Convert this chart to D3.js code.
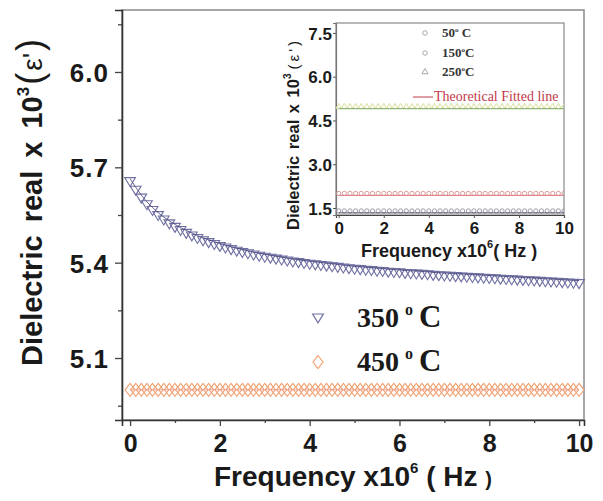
<!DOCTYPE html>
<html>
<head>
<meta charset="utf-8">
<script src="https://cdn.jsdelivr.net/npm/d3@7/dist/d3.min.js"></script>
<style>
  html, body { margin: 0; padding: 0; background: #fff; }
  svg { display: block; }
  .sans { font-family: "Liberation Sans", Arial, sans-serif; font-weight: bold; }
  .serif { font-family: "Liberation Serif", "Times New Roman", serif; font-weight: bold; }
</style>
</head>
<body>
<svg id="chart" width="603" height="501"></svg>
<script>
// ---- main panel data: frequency (x10^6 Hz) vs dielectric real part (x10^3) ----
const freqMain = [
  0, 0.125, 0.25, 0.375, 0.5, 0.625, 0.75, 0.875, 1, 1.125, 1.25, 1.375, 1.5, 1.625, 1.75, 1.875,
  2, 2.125, 2.25, 2.375, 2.5, 2.625, 2.75, 2.875, 3, 3.125, 3.25, 3.375, 3.5, 3.625, 3.75, 3.875,
  4, 4.125, 4.25, 4.375, 4.5, 4.625, 4.75, 4.875, 5, 5.125, 5.25, 5.375, 5.5, 5.625, 5.75, 5.875,
  6, 6.125, 6.25, 6.375, 6.5, 6.625, 6.75, 6.875, 7, 7.125, 7.25, 7.375, 7.5, 7.625, 7.75, 7.875,
  8, 8.125, 8.25, 8.375, 8.5, 8.625, 8.75, 8.875, 9, 9.125, 9.25, 9.375, 9.5, 9.625, 9.75, 9.875, 10
];
const eps350 = [
  5.655, 5.628, 5.603, 5.582, 5.564, 5.548, 5.534, 5.522, 5.511, 5.501, 5.492, 5.484, 5.476, 5.469, 5.463, 5.457,
  5.451, 5.446, 5.441, 5.436, 5.432, 5.428, 5.424, 5.420, 5.417, 5.414, 5.411, 5.408, 5.405, 5.402, 5.400, 5.397,
  5.395, 5.393, 5.391, 5.389, 5.387, 5.385, 5.383, 5.381, 5.379, 5.378, 5.376, 5.375, 5.373, 5.372, 5.370, 5.369,
  5.368, 5.366, 5.365, 5.364, 5.363, 5.362, 5.360, 5.359, 5.358, 5.357, 5.356, 5.355, 5.354, 5.353, 5.352, 5.351,
  5.350, 5.349, 5.348, 5.347, 5.346, 5.345, 5.344, 5.343, 5.342, 5.341, 5.340, 5.339, 5.338, 5.337, 5.336, 5.335, 5.334
];
const eps450 = [
  5.00, 5.00, 5.00, 5.00, 5.00, 5.00, 5.00, 5.00, 5.00, 5.00, 5.00, 5.00, 5.00, 5.00, 5.00, 5.00,
  5.00, 5.00, 5.00, 5.00, 5.00, 5.00, 5.00, 5.00, 5.00, 5.00, 5.00, 5.00, 5.00, 5.00, 5.00, 5.00,
  5.00, 5.00, 5.00, 5.00, 5.00, 5.00, 5.00, 5.00, 5.00, 5.00, 5.00, 5.00, 5.00, 5.00, 5.00, 5.00,
  5.00, 5.00, 5.00, 5.00, 5.00, 5.00, 5.00, 5.00, 5.00, 5.00, 5.00, 5.00, 5.00, 5.00, 5.00, 5.00,
  5.00, 5.00, 5.00, 5.00, 5.00, 5.00, 5.00, 5.00, 5.00, 5.00, 5.00, 5.00, 5.00, 5.00, 5.00, 5.00, 5.00
];
const mainXTicks = [0, 2, 4, 6, 8, 10];
const mainXMinor = [1, 3, 5, 7, 9];
const mainYTicks = [5.1, 5.4, 5.7, 6.0];
const mainYMinor = [4.95, 5.25, 5.55, 5.85, 6.15];
const mainLegend = ["350", "450"];

// ---- inset data ----
const freqInset = [
  0, 0.25, 0.5, 0.75, 1, 1.25, 1.5, 1.75, 2, 2.25, 2.5, 2.75, 3, 3.25, 3.5, 3.75, 4, 4.25, 4.5, 4.75,
  5, 5.25, 5.5, 5.75, 6, 6.25, 6.5, 6.75, 7, 7.25, 7.5, 7.75, 8, 8.25, 8.5, 8.75, 9, 9.25, 9.5, 9.75, 10
];
const eps50 = [
  1.40, 1.40, 1.40, 1.40, 1.40, 1.40, 1.40, 1.40, 1.40, 1.40, 1.40, 1.40, 1.40, 1.40, 1.40, 1.40, 1.40, 1.40, 1.40, 1.40,
  1.40, 1.40, 1.40, 1.40, 1.40, 1.40, 1.40, 1.40, 1.40, 1.40, 1.40, 1.40, 1.40, 1.40, 1.40, 1.40, 1.40, 1.40, 1.40, 1.40, 1.40
];
const eps150 = [
  2.00, 2.00, 2.00, 2.00, 2.00, 2.00, 2.00, 2.00, 2.00, 2.00, 2.00, 2.00, 2.00, 2.00, 2.00, 2.00, 2.00, 2.00, 2.00, 2.00,
  2.00, 2.00, 2.00, 2.00, 2.00, 2.00, 2.00, 2.00, 2.00, 2.00, 2.00, 2.00, 2.00, 2.00, 2.00, 2.00, 2.00, 2.00, 2.00, 2.00, 2.00
];
const eps250 = [
  4.97, 4.97, 4.97, 4.97, 4.97, 4.97, 4.97, 4.97, 4.97, 4.97, 4.97, 4.97, 4.97, 4.97, 4.97, 4.97, 4.97, 4.97, 4.97, 4.97,
  4.97, 4.97, 4.97, 4.97, 4.97, 4.97, 4.97, 4.97, 4.97, 4.97, 4.97, 4.97, 4.97, 4.97, 4.97, 4.97, 4.97, 4.97, 4.97, 4.97, 4.97
];
const insetXTicks = [0, 2, 4, 6, 8, 10];
const insetYTicks = [1.5, 3.0, 4.5, 6.0, 7.5];
const insetLegend = ["50", "150", "250"];

const svg = d3.select("#chart");

// ================= main panel =================
const M = { left: 122, right: 584, top: 10, bottom: 420 };
const x = d3.scaleLinear().domain([-0.18, 10.11]).range([M.left, M.right]);
const y = d3.scaleLinear().domain([4.905, 6.195]).range([M.bottom, M.top]);

// frame: top/right in grey, left/bottom axes drawn by d3 axes
svg.append("rect")
  .attr("x", M.left).attr("y", M.top)
  .attr("width", M.right - M.left).attr("height", M.bottom - M.top)
  .attr("fill", "#fff").attr("stroke", "#8a8a8a").attr("stroke-width", 1.5);

const xAxis = svg.append("g").attr("transform", `translate(0,${M.bottom})`)
  .call(d3.axisBottom(x).tickValues(mainXTicks).tickSize(6).tickFormat(d3.format("d")));
svg.append("g").attr("transform", `translate(0,${M.bottom})`)
  .call(d3.axisBottom(x).tickValues(mainXMinor).tickSize(3).tickFormat(""))
  .call(g => g.select(".domain").remove());
const yAxis = svg.append("g").attr("transform", `translate(${M.left},0)`)
  .call(d3.axisLeft(y).tickValues(mainYTicks).tickSize(7).tickFormat(d3.format(".1f")));
svg.append("g").attr("transform", `translate(${M.left},0)`)
  .call(d3.axisLeft(y).tickValues(mainYMinor).tickSize(4).tickFormat(""))
  .call(g => g.select(".domain").remove());

svg.selectAll(".domain").attr("stroke", "#333").attr("stroke-width", 1.6);
svg.selectAll(".tick line").attr("stroke", "#444").attr("stroke-width", 1.3);

xAxis.selectAll(".tick text").attr("class", "sans").attr("font-size", 25)
  .attr("fill", "#1a1a1a").attr("dy", "0").attr("y", 32);
yAxis.selectAll(".tick text").attr("class", "sans").attr("font-size", 26)
  .attr("fill", "#1a1a1a").attr("x", -13).attr("dy", "0.36em")
  .attr("letter-spacing", 1);

// fitted curve through the 350 °C data
const pts350 = freqMain.map((f, i) => [f, eps350[i]]);
const pts450 = freqMain.map((f, i) => [f, eps450[i]]);
const line = d3.line().x(d => x(d[0])).y(d => y(d[1]));

const triDown = d3.symbol().type({
  draw(ctx, size) {
    const s = Math.sqrt(size);
    ctx.moveTo(-s * 0.6, -s * 0.45);
    ctx.lineTo(s * 0.6, -s * 0.45);
    ctx.lineTo(0, s * 0.55);
    ctx.closePath();
  }
}).size(80);
const diamond = d3.symbol().type({
  draw(ctx, size) {
    const s = Math.sqrt(size);
    ctx.moveTo(0, -s * 0.65);
    ctx.lineTo(s * 0.5, 0);
    ctx.lineTo(0, s * 0.65);
    ctx.lineTo(-s * 0.5, 0);
    ctx.closePath();
  }
}).size(100);

svg.append("g").selectAll("path").data(pts450).join("path")
  .attr("d", diamond)
  .attr("transform", d => `translate(${x(d[0])},${y(d[1])})`)
  .attr("fill", "none").attr("stroke", "#f0a272").attr("stroke-width", 1.1);
svg.append("path").datum(pts450).attr("d", line)
  .attr("fill", "none").attr("stroke", "#e88a80").attr("stroke-width", 1).attr("opacity", 0.7);

svg.append("g").selectAll("path").data(pts350).join("path")
  .attr("d", triDown)
  .attr("transform", d => `translate(${x(d[0])},${y(d[1])})`)
  .attr("fill", "none").attr("stroke", "#6f6fa2").attr("stroke-width", 1.1);
svg.append("path").datum(pts350).attr("d", line)
  .attr("transform", "translate(0,-3)")
  .attr("fill", "none").attr("stroke", "#45457a").attr("stroke-width", 1).attr("opacity", 0.8);

// legend of the main panel
const legY = [318, 362];
const legMark = [triDown, diamond];
const legColor = ["#6f6fa2", "#f0a272"];
mainLegend.forEach((t, i) => {
  svg.append("path").attr("d", legMark[i])
    .attr("transform", `translate(318,${legY[i]})`)
    .attr("fill", "none").attr("stroke", legColor[i]).attr("stroke-width", 1.2);
  const tx = svg.append("text").attr("class", "serif").attr("font-size", 28)
    .attr("fill", "#1a1a1a").attr("x", 357).attr("y", legY[i] + 9);
  tx.append("tspan").text(t);
  tx.append("tspan").attr("font-size", 16).attr("dx", 6).attr("dy", -12).text("o");
  tx.append("tspan").attr("dx", 6).attr("dy", 12).attr("font-size", 31).text("C");
});

// axis titles
const xt = svg.append("text").attr("class", "sans").attr("font-size", 28)
  .attr("fill", "#1a1a1a").attr("text-anchor", "middle")
  .attr("x", (M.left + M.right) / 2).attr("y", 486);
xt.append("tspan").text("Frequency x10");
xt.append("tspan").attr("font-size", 15).attr("dy", -13).text("6");
xt.append("tspan").attr("dy", 13).text(" ( Hz ");
xt.append("tspan").attr("font-size", 20).text(")");

const yt = svg.append("text").attr("class", "sans").attr("font-size", 29)
  .attr("fill", "#1a1a1a").attr("word-spacing", 5)
  .attr("transform", "translate(42,366) rotate(-90)");
yt.append("tspan").text("Dielectric real x 10");
yt.append("tspan").attr("font-size", 17).attr("dy", -13).text("3");
yt.append("tspan").attr("dy", 13).attr("dx", 2).attr("font-size", 36).attr("font-weight", "normal").text("(");
yt.append("tspan").attr("font-weight", "normal").attr("font-size", 28).attr("dx", 2).text("ε'");
yt.append("tspan").attr("font-size", 36).attr("font-weight", "normal").attr("dx", 2).text(")");

// ================= inset panel =================
const I = { left: 336, right: 564, top: 23, bottom: 215 };
const xi = d3.scaleLinear().domain([-0.12, 10.0]).range([I.left, I.right]);
const yi = d3.scaleLinear().domain([1.26, 7.84]).range([I.bottom, I.top]);

svg.append("rect")
  .attr("x", I.left).attr("y", I.top)
  .attr("width", I.right - I.left).attr("height", I.bottom - I.top)
  .attr("fill", "#fff").attr("stroke", "#8a8a8a").attr("stroke-width", 1.2);

const xiAxis = svg.append("g").attr("transform", `translate(0,${I.bottom})`)
  .call(d3.axisBottom(xi).tickValues(insetXTicks).tickSize(3).tickFormat(d3.format("d")));
const yiAxis = svg.append("g").attr("transform", `translate(${I.left},0)`)
  .call(d3.axisLeft(yi).tickValues(insetYTicks).tickSize(3).tickFormat(d3.format(".1f")));
xiAxis.select(".domain").attr("stroke", "#444").attr("stroke-width", 1.2);
yiAxis.select(".domain").attr("stroke", "#777").attr("stroke-width", 1.2);
xiAxis.selectAll(".tick line").attr("stroke", "#555");
yiAxis.selectAll(".tick line").attr("stroke", "#555");
xiAxis.selectAll(".tick text").attr("class", "sans").attr("font-size", 17)
  .attr("fill", "#1a1a1a").attr("dy", "0").attr("y", 19);
yiAxis.selectAll(".tick text").attr("class", "sans").attr("font-size", 17)
  .attr("fill", "#1a1a1a").attr("x", -4).attr("dy", "0.36em");

const clip = svg.append("clipPath").attr("id", "insetClip")
  .append("rect").attr("x", I.left).attr("y", I.top)
  .attr("width", I.right - I.left).attr("height", I.bottom - I.top);
const gi = svg.append("g").attr("clip-path", "url(#insetClip)");
const linei = d3.line().x(d => xi(d[0])).y(d => yi(d[1]));

const insetSeries = [
  { vals: eps50, mark: d3.symbolCircle, size: 14, color: "#9a9aaa", fit: "#55556a" },
  { vals: eps150, mark: d3.symbolCircle, size: 14, color: "#d99a9a", fit: "#e07a82" },
  { vals: eps250, mark: d3.symbolTriangle, size: 14, color: "#d7df9a", fit: "#7fa86a" }
];
insetSeries.forEach(s => {
  const pts = freqInset.map((f, i) => [f, s.vals[i]]);
  gi.append("g").selectAll("path").data(pts).join("path")
    .attr("d", d3.symbol().type(s.mark).size(s.size))
    .attr("transform", d => `translate(${xi(d[0])},${yi(d[1])})`)
    .attr("fill", "none").attr("stroke", s.color).attr("stroke-width", 1);
  gi.append("path").datum(pts).attr("d", linei)
    .attr("transform", "translate(0,2)")
    .attr("fill", "none").attr("stroke", s.fit).attr("stroke-width", 1);
});

// inset legend
const legIY = [33, 53, 72];
insetLegend.forEach((t, i) => {
  gi.append("path").attr("d", d3.symbol().type(insetSeries[i].mark).size(16))
    .attr("transform", `translate(425,${legIY[i]})`)
    .attr("fill", "none").attr("stroke", "#a8a8a8").attr("stroke-width", 1);
  const tx = gi.append("text").attr("class", "serif").attr("font-size", 13)
    .attr("fill", "#333").attr("x", 442).attr("y", legIY[i] + 4);
  tx.append("tspan").text(t);
  tx.append("tspan").attr("font-size", 7).attr("dy", -5).text("o");
  tx.append("tspan").attr("dy", 5).text(i === 0 ? " C" : "C");
});
gi.append("line").attr("x1", 413).attr("x2", 433).attr("y1", 97).attr("y2", 97)
  .attr("stroke", "#c23a4a").attr("stroke-width", 1);
gi.append("text").attr("font-family", "Liberation Serif, serif").attr("font-size", 14)
  .attr("fill", "#c23a4a").attr("x", 434).attr("y", 101).text("Theoretical Fitted line");

// inset titles
const xit = svg.append("text").attr("class", "sans").attr("font-size", 18)
  .attr("fill", "#1a1a1a").attr("x", 361).attr("y", 257);
xit.append("tspan").text("Frequency  x10");
xit.append("tspan").attr("font-size", 11).attr("dy", -9).text("6");
xit.append("tspan").attr("dy", 9).text("( Hz )");

const yit = svg.append("text").attr("class", "sans").attr("font-size", 16.5)
  .attr("fill", "#1a1a1a").attr("word-spacing", 2)
  .attr("transform", "translate(299,230) rotate(-90)");
yit.append("tspan").text("Dielectric real x 10");
yit.append("tspan").attr("font-size", 10).attr("dy", -8).text("3");
yit.append("tspan").attr("dy", 8).attr("dx", 4).attr("font-weight", "normal")
  .attr("font-size", 15).attr("letter-spacing", 3).text("(ε')");
</script>
</body>
</html>
